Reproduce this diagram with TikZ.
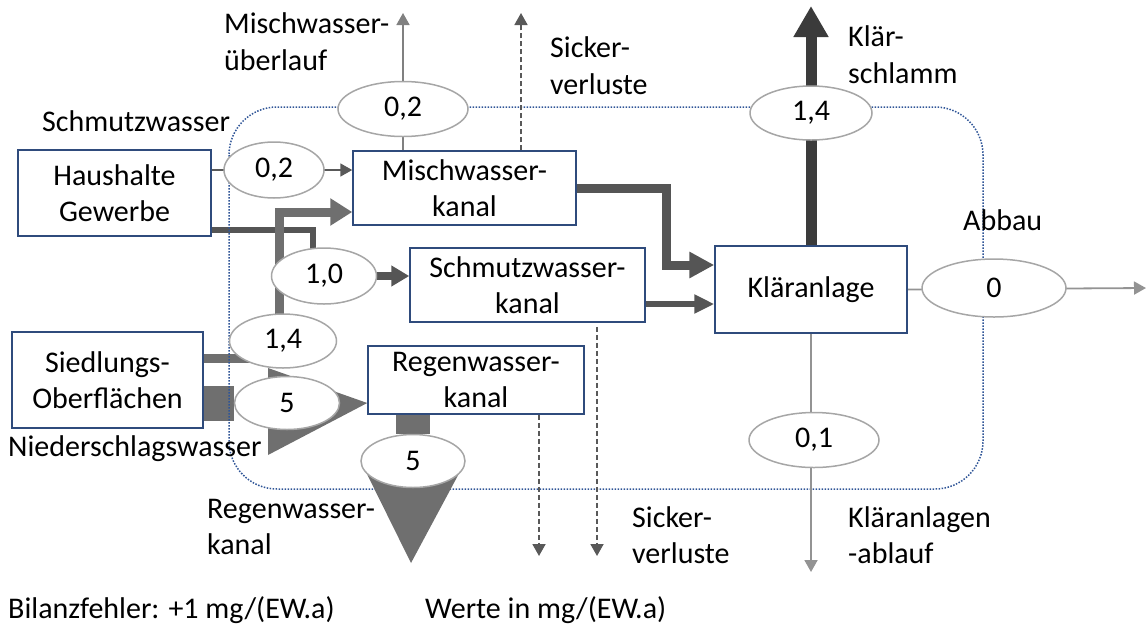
\documentclass[tikz,border=0pt]{standalone}
\usepackage{fontspec}
\setmainfont{Carlito}
\usetikzlibrary{shapes.geometric,arrows.meta,backgrounds,calc}
\definecolor{boxblue}{HTML}{2F4B7C}
\definecolor{dotblue}{HTML}{2F5597}
\definecolor{ellgray}{HTML}{A6A6A6}
\definecolor{darkflow}{HTML}{555555}
\definecolor{lightflow}{HTML}{6F6F6F}
\definecolor{sludge}{HTML}{3B3B3B}
\definecolor{thingray}{HTML}{808080}
\definecolor{dashgray}{HTML}{595959}
\begin{document}
\begin{tikzpicture}[x=1pt,y=-1pt,
  font=\fontsize{30}{36}\selectfont,
  box/.style={draw=boxblue,line width=1.5pt,fill=white,align=center,inner sep=0pt},
  ell/.style={ellipse,draw=ellgray,line width=1.5pt,fill=white,inner sep=0pt},
  lbl/.style={anchor=base west,inner sep=0pt},
  thinflow/.style={draw=thingray,line width=1.8pt,-{Triangle[length=12pt,width=13pt]}},
  seep/.style={draw=dashgray,line width=1.8pt,dash pattern=on 5pt off 3pt,-{Triangle[length=12pt,width=13pt]}},
]
\useasboundingbox (0,0) rectangle (1146,630);

% boxes
\node[box,minimum width=193pt,minimum height=86pt] (hh) at (114.5,193) {Haushalte\\Gewerbe};
\node[box,minimum width=191pt,minimum height=96pt] (so) at (107.5,380) {Siedlungs-\\Oberflächen};
\node[box,minimum width=223pt,minimum height=74pt] (mk) at (464.5,188) {Mischwasser-\\kanal};
\node[box,minimum width=235pt,minimum height=74pt] (sk) at (527.5,285) {Schmutzwasser-\\kanal};
\node[box,minimum width=216pt,minimum height=68pt] (rk) at (476,380) {Regenwasser-\\kanal};
\node[box,minimum width=192pt,minimum height=87pt] (kl) at (811,289.5) {Kläranlage};

% ellipses
\node[ell,minimum width=130pt,minimum height=55pt] (e02t) at (403,109) {0,2};
\node[ell,minimum width=100pt,minimum height=56pt] (e02l) at (274,170) {0,2};
\node[ell,minimum width=105pt,minimum height=56pt] (e10) at (324,276) {1,0};
\node[ell,minimum width=107pt,minimum height=54pt] (e14l) at (283,341) {1,4};
\node[ell,minimum width=105pt,minimum height=53pt] (e5l) at (287,403) {5};
\node[ell,minimum width=104pt,minimum height=53pt] (e5b) at (413,461) {5};
\node[ell,minimum width=122pt,minimum height=54pt] (e14r) at (811,113) {1,4};
\node[ell,minimum width=144pt,minimum height=58pt] (e0) at (994,288) {0};
\node[ell,minimum width=130pt,minimum height=55pt] (e01) at (814,440) {0,1};

% labels
\node[lbl] (lmu1) at (224,33) {Mischwasser-};
\node[lbl] (lmu2) at (224,70) {überlauf};
\node[lbl] (lsa1) at (550,57) {Sicker-};
\node[lbl] (lsa2) at (550,94) {verluste};
\node[lbl] (lks1) at (848,46) {Klär-};
\node[lbl] (lks2) at (848,83) {schlamm};
\node[lbl] (lsw) at (42,131) {Schmutzwasser};
\node[lbl] (lab) at (963,230) {Abbau};
\node[lbl] (lns) at (8,456) {Niederschlagswasser};
\node[lbl] (lrk1) at (207,518) {Regenwasser-};
\node[lbl] (lrk2) at (207,554) {kanal};
\node[lbl] (lsb1) at (632,527) {Sicker-};
\node[lbl] (lsb2) at (632,563) {verluste};
\node[lbl] (lka1) at (848,527) {Kläranlagen};
\node[lbl] (lka2) at (848,563) {-ablauf};
\node[lbl] (lbf) at (8,618) {Bilanzfehler: +1 mg/(EW.a)};
\node[lbl] (lwe) at (425,618) {Werte in mg/(EW.a)};

% free ends and bends
\coordinate (mueTop) at (403,13);
\coordinate (svTop) at (521,13);
\coordinate (ksTop) at (811,6);
\coordinate (abEnd) at (1146,288);
\coordinate (alEnd) at (811,572);
\coordinate (sv1End) at (539,556);
\coordinate (sv2End) at (597,556);
\coordinate (hj) at (313,230);
\coordinate (mj) at (279,212);
\coordinate (s14) at (250,358);
\coordinate (mkj) at (666,188);
\coordinate (kj) at (666,265);
\coordinate (skr) at ([yshift=-19pt]sk.east);

\begin{pgfonlayer}{background}
  % thick flows
  \draw[darkflow,line width=6pt] (hh.east |- hj) -- (hj) -- (hj |- e10);
  \draw[darkflow,line width=8pt,-{Triangle[length=18pt,width=20pt]}] (e10.east) -- (sk.west |- e10);
  \draw[lightflow,line width=9pt,-{Triangle[length=22pt,width=26pt]}] (mj |- e14l) -- (mj) -- (mk.west |- mj);
  \draw[lightflow,line width=9pt] (so.east |- s14) -- (s14);
  \draw[lightflow,line width=35pt] (so.east |- e5l) -- (e5l);
  \fill[lightflow] ($(e5l)+(-19,-35)$) -- ($(e5l)+(-19,52)$) -- (rk.west |- e5l) -- cycle;
  \draw[darkflow,line width=9pt,-{Triangle[length=25pt,width=25pt]}] (mk.east |- mkj) -- (mkj) -- (kj) -- (kl.west |- kj);
  \draw[darkflow,line width=6pt,-{Triangle[length=20pt,width=18pt]}] (skr) -- (skr -| kl.west);
  \draw[sludge,line width=11pt,-{Triangle[length=31pt,width=33pt]}] (kl.north) -- (ksTop);
  % balance boundary
  \draw[dotblue,line width=1.5pt,dash pattern=on 1.5pt off 1.5pt,rounded corners=48pt] (229,107) rectangle (983,489);
  % outflow of the storm sewer
  \draw[lightflow,line width=34pt] (rk.south -| e5b) -- (e5b);
  \fill[lightflow] ($(e5b)+(-50,5)$) -- ($(e5b)+(50,5)$) -- ($(e5b)+(-2,102)$) -- cycle;
  % thin flows
  \draw[thinflow] (mk.north -| e02t) -- (mueTop);
  \draw[thinflow,draw=dashgray] (hh.east |- e02l) -- (mk.west |- e02l);
  \draw[thinflow,draw=thingray!85] (kl.east) -- (abEnd);
  \draw[thinflow,draw=thingray!85] (kl.south) -- (alEnd);
  \draw[seep] (mk.north -| svTop) -- (svTop);
  \draw[seep] (rk.south -| sv1End) -- (sv1End);
  \draw[seep,shorten <=4pt] (sk.south -| sv2End) -- (sv2End);
\end{pgfonlayer}
\end{tikzpicture}
\end{document}
